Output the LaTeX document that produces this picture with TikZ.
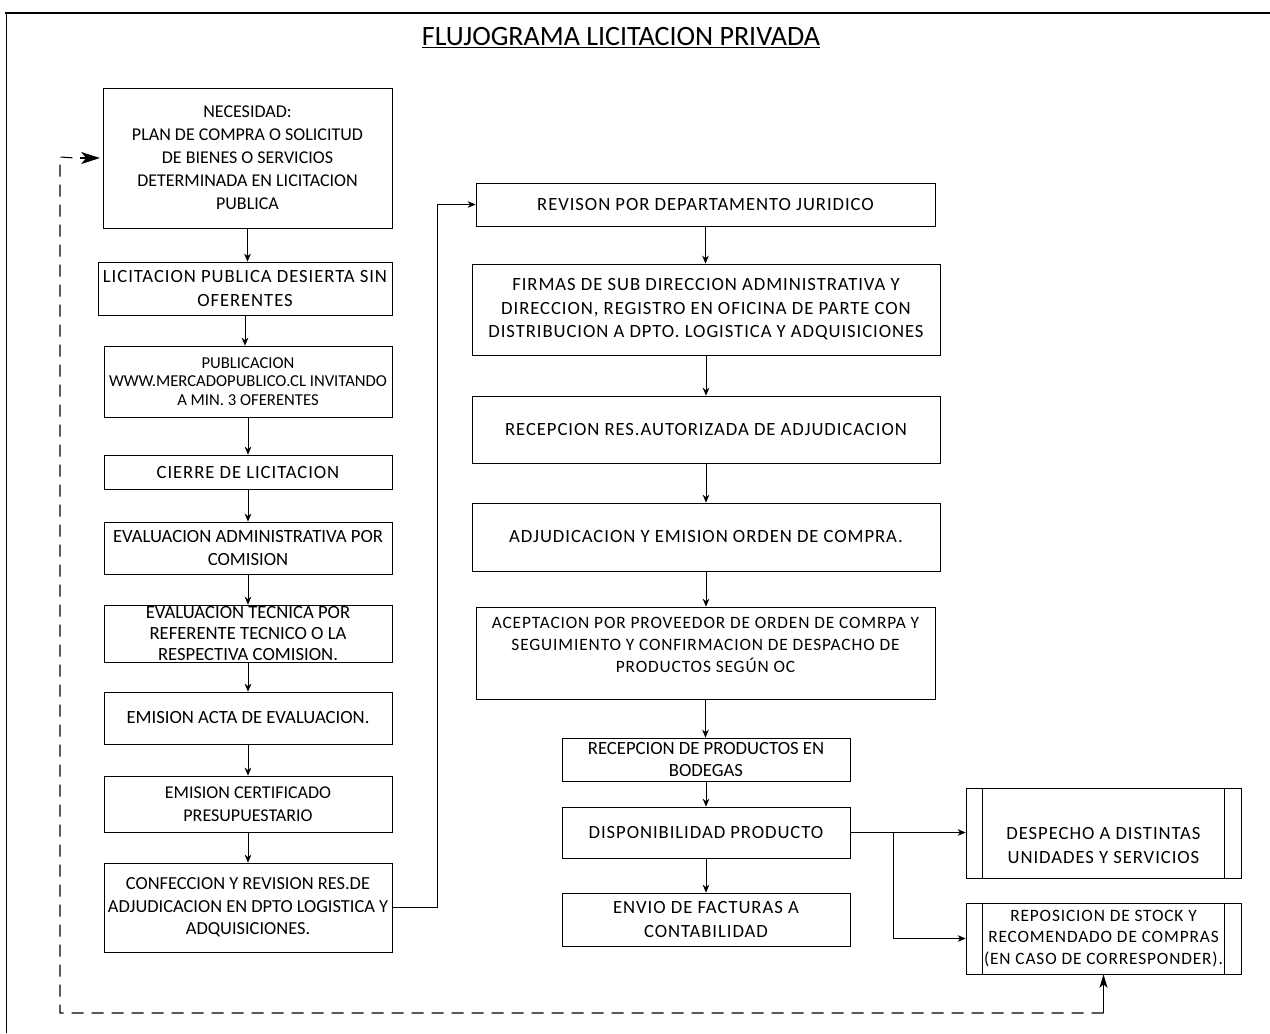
\documentclass[tikz,border=0pt]{standalone}
\usepackage{fontspec}
\setmainfont{Carlito}
\newfontfamily\spacedsans[LetterSpace=5]{Carlito}
\usetikzlibrary{arrows.meta}

\tikzset{
  stepbox/.style={draw, line width=0.6pt, inner sep=0pt, align=center,
                  font=\fontsize{13.5}{17.2}\selectfont},
  widetext/.style={font=\spacedsans\fontsize{14}{17.6}\selectfont},
  flow/.style={line width=0.6pt, -{Stealth[length=6pt,width=5pt]}},
  loopline/.style={line width=0.8pt, dash pattern=on 9pt off 6pt},
  looptip/.style={line width=0.8pt, -{Stealth[length=10pt,width=6pt,inset=2.5pt]}},
  bigtip/.style={line width=0.8pt, -{Stealth[length=14pt,width=9pt,inset=3.5pt]}},
}

% box from (x1,y1) to (x2,y2) in pixel units: [opts]{name}{x1}{y1}{x2}{y2}{text}
\newcommand{\pbox}[7][]{%
  \node[stepbox,minimum width={(#5-#3)*0.75pt},minimum height={(#6-#4)*0.75pt},#1]
    (#2) at ({(#3+#5)/2},{(#4+#6)/2}) {#7};}

\begin{document}
\begin{tikzpicture}[x=0.75pt,y=-0.75pt]
\useasboundingbox (0,0) rectangle (1270,1033);

% page frame (top and left edges)
\draw[line width=0.6pt] (6,1033) -- (6,13);
\draw[line width=1.6pt] (5,13) -- (1270,13);

% title
\node (title) at (621,38) {\fontsize{21}{25}\selectfont\underline{FLUJOGRAMA LICITACION PRIVADA}};

% left column
\pbox{nec}{103}{88}{392}{228}{NECESIDAD:\\PLAN DE COMPRA O SOLICITUD\\DE BIENES O SERVICIOS\\DETERMINADA EN LICITACION\\PUBLICA}
\pbox[widetext]{lic}{98}{262}{392}{315}{LICITACION PUBLICA DESIERTA SIN\\OFERENTES}
\pbox[font=\fontsize{12.5}{13.8}\selectfont]{pub}{104}{346}{392}{417}{PUBLICACION\\WWW.MERCADOPUBLICO.CL INVITANDO\\A MIN. 3 OFERENTES}
\pbox[widetext]{cie}{104}{455}{392}{489}{CIERRE DE LICITACION}
\pbox[font=\fontsize{14}{17}\selectfont]{eva}{104}{522}{392}{574}{EVALUACION ADMINISTRATIVA POR\\COMISION}
\pbox[font=\fontsize{14}{15.8}\selectfont]{evt}{104}{605}{392}{662}{EVALUACION TECNICA POR\\REFERENTE TECNICO O LA\\RESPECTIVA COMISION.}
\pbox[font=\fontsize{14}{17}\selectfont]{act}{104}{692}{392}{744}{EMISION ACTA DE EVALUACION.}
\pbox{cer}{104}{776}{392}{832}{EMISION CERTIFICADO\\PRESUPUESTARIO}
\pbox[font=\fontsize{13.8}{17}\selectfont]{con}{104}{863}{392}{952}{CONFECCION Y REVISION RES.DE\\ADJUDICACION EN DPTO LOGISTICA Y\\ADQUISICIONES.}

% right column
\pbox[widetext]{rev}{476}{183}{935}{226}{REVISON POR DEPARTAMENTO JURIDICO}
\pbox[widetext]{fir}{472}{264}{940}{355}{FIRMAS DE SUB DIRECCION ADMINISTRATIVA Y\\DIRECCION, REGISTRO EN OFICINA DE PARTE CON\\DISTRIBUCION A DPTO. LOGISTICA Y ADQUISICIONES}
\pbox[widetext]{rre}{472}{396}{940}{463}{RECEPCION RES.AUTORIZADA DE ADJUDICACION}
\pbox[widetext]{adj}{472}{503}{940}{571}{ADJUDICACION Y EMISION ORDEN DE COMPRA.}
\pbox[font=\spacedsans\fontsize{13}{16.5}\selectfont]{ace}{476}{607}{935}{699}{ACEPTACION POR PROVEEDOR DE ORDEN DE COMRPA Y\\SEGUIMIENTO Y CONFIRMACION DE DESPACHO DE\\PRODUCTOS SEGÚN OC\\[-5pt]\mbox{}}
\pbox[font=\fontsize{14}{16}\selectfont]{rpr}{562}{738}{850}{781}{RECEPCION DE PRODUCTOS EN\\BODEGAS}
\pbox[widetext]{dis}{562}{807}{850}{858}{DISPONIBILIDAD PRODUCTO}
\pbox[widetext]{env}{562}{893}{850}{946}{ENVIO DE FACTURAS A\\CONTABILIDAD}

% predefined-process boxes
\pbox[widetext]{des}{966}{788}{1241}{878}{\mbox{}\\[10pt]DESPECHO A DISTINTAS\\UNIDADES Y SERVICIOS}
\pbox[font=\spacedsans\fontsize{13}{16}\selectfont]{rep}{966}{903}{1241}{974}{REPOSICION DE STOCK Y\\RECOMENDADO DE COMPRAS\\(EN CASO DE CORRESPONDER).}
\foreach \b in {des,rep}{
  \draw[line width=0.6pt] ([xshift=12.75pt]\b.north west) -- ([xshift=12.75pt]\b.south west);
  \draw[line width=0.6pt] ([xshift=-12.75pt]\b.north east) -- ([xshift=-12.75pt]\b.south east);
}

% left column flow
\foreach \a/\b in {nec/lic,lic/pub,pub/cie,cie/eva,eva/evt,evt/act,act/cer,cer/con}{
  \draw[flow] (\a.south) -- (\a.south |- \b.north);
}
% hand-over to the legal review
\draw[flow] (con.east) -- ++(45,0) |- (rev.west);

% right column flow
\foreach \a/\b in {rev/fir,fir/rre,rre/adj,adj/ace,ace/rpr,rpr/dis,dis/env}{
  \draw[flow] (\a.south) -- (\a.south |- \b.north);
}

% distribution branches
\draw[flow] (dis.east) -- (dis.east -| des.west);
\coordinate (split) at ([xshift=32.25pt]dis.east);
\draw[flow] (split) |- (rep.west);

% feedback loop back to the start
\coordinate (lt) at (60,157);
\coordinate (lb) at (60,1013);
\coordinate (lr) at (rep.south |- lb);
\draw[loopline] (lr) -- (lb) -- (lt) -- ([xshift=-20pt]nec.west);
\draw[bigtip] ([xshift=-17pt]nec.west) -- ([xshift=-2pt]nec.west);
\draw[looptip] (lr) -- (rep.south);

\end{tikzpicture}
\end{document}
